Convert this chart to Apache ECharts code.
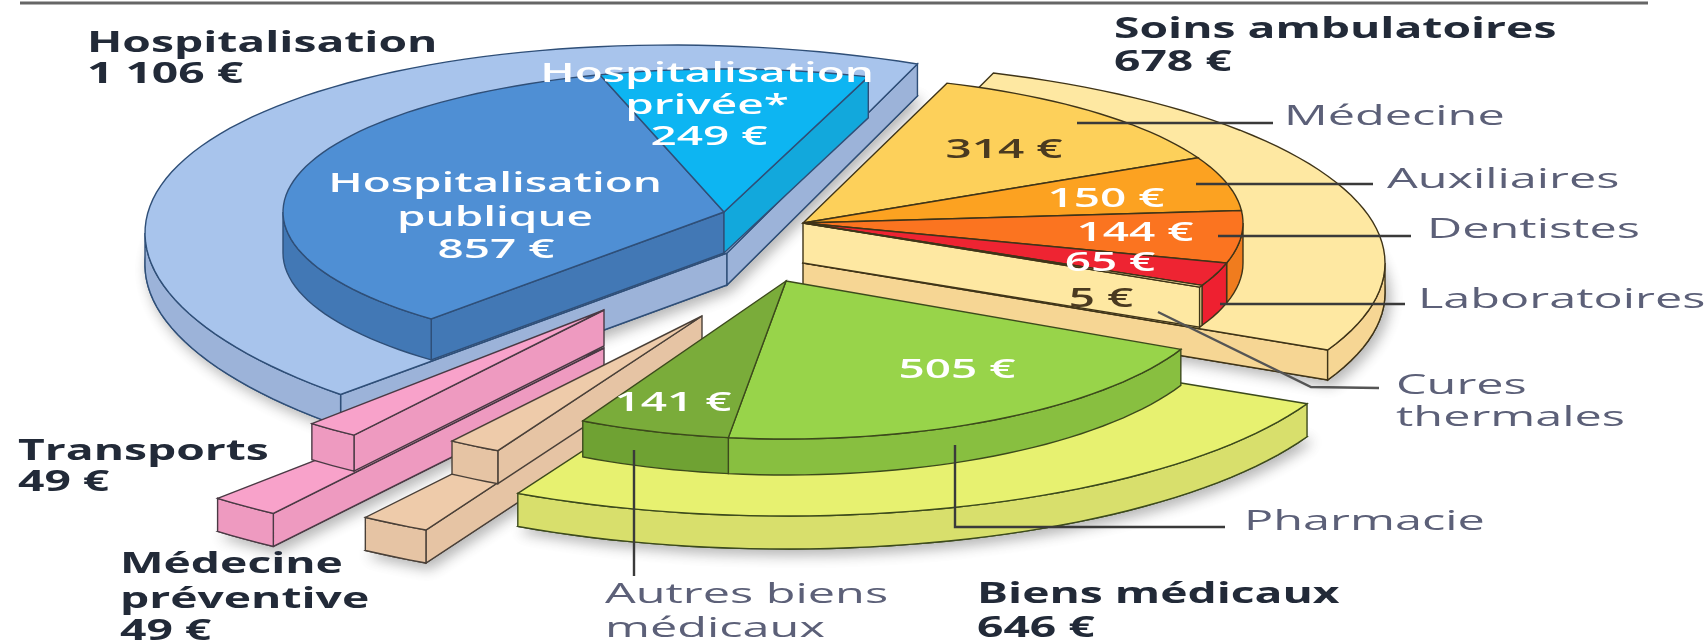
<!DOCTYPE html>
<html>
<head>
<meta charset="utf-8">
<style>
  html, body { margin: 0; background: #fff; }
  #chart { width: 1706px; height: 641px; filter: blur(0.6px); }
</style>
<script src="https://cdn.jsdelivr.net/npm/echarts@6/dist/echarts.min.js"></script>
</head>
<body>
<div id="chart"></div>
<script>
// montants en euros, dans l'ordre du tour de la tarte
var categories = ['Hospitalisation publique', 'Hospitalisation privée*', 'Médecine', 'Auxiliaires', 'Dentistes',
  'Laboratoires', 'Cures thermales', 'Pharmacie', 'Autres biens médicaux', 'Médecine préventive', 'Transports'];
var values = [857, 249, 314, 150, 144, 65, 5, 505, 141, 49, 49];
var sliceGroup = [0, 0, 1, 1, 1, 1, 1, 2, 2, 3, 4];
var groupNames = ['Hospitalisation', 'Soins ambulatoires', 'Biens médicaux', 'Médecine préventive', 'Transports'];

var total = values.reduce(function (a, b) { return a + b; }, 0);
var startAngle = 131.6;

// geometrie de chaque part eclatee (pixels de la page)
var groupLayout = [
  { x: 724, y: 212, a: 441, b: 143, depth: 41, px: 727, py: 253, pa: 582, pb: 207, shear: 20, pDepth: 32, line: '#2f4f78',
    plate: '#a8c4ec', plateWall: '#9cb3d9' },
  { x: 803, y: 223, a: 440, b: 148, depth: 40, px: 803, py: 263, pa: 582, pb: 201, shear: 0, pDepth: 30, line: '#3f3418',
    plate: '#fee8a2', plateWall: '#f6d694' },
  { x: 786, y: 281, a: 438, b: 158, depth: 36, px: 786, py: 318, pa: 578, pb: 198, shear: 0, pDepth: 33, line: '#3c4a1c',
    plate: '#e7f170', plateWall: '#d8df6c' },
  { x: 702, y: 316, a: 440, b: 152, depth: 33, px: 696, py: 352, pa: 582, pb: 201, shear: 0, pDepth: 33, line: '#4a4038',
    plate: '#eecbaa', plateWall: '#e6c4a4' },
  { x: 604, y: 310, a: 440, b: 152, depth: 36, px: 604, py: 348, pa: 582, pb: 201, shear: 0, pDepth: 33, line: '#4a3a44',
    plate: '#f8a2ca', plateWall: '#ee9ac0' }
];
var sliceTop = ['#4f8fd4', '#0db5f2', '#fdd05a', '#fca221', '#fb7420', '#ee2432', '#fee8a2', '#98d44a', '#7aac3a', '#eecbaa', '#f8a2ca'];
var sliceWall = ['#4278b5', '#12a8dc', '#f5b94f', '#f09a20', '#f07c1e', '#ee2030', '#fee8a2', '#88bf40', '#6fa233', '#e6c4a4', '#ee9ac0'];

// angles cumules a partir des valeurs
var sliceAngles = [];
(function () {
  var cur = startAngle;
  values.forEach(function (v) {
    var next = cur + v / total * 360;
    sliceAngles.push([cur, next]);
    cur = next;
  });
})();

function rad(d) { return d * Math.PI / 180; }

function arcPoints(cx, cy, a, b, shear, t1, t2, dy) {
  var pts = [], n = Math.max(2, Math.ceil((t2 - t1) / 2));
  for (var i = 0; i <= n; i++) {
    var t = rad(t1 + (t2 - t1) * i / n);
    pts.push([cx + a * Math.cos(t), cy + b * Math.sin(t) + shear * Math.cos(t) + dy]);
  }
  return pts;
}

function polygon(map, pts, fill, line, extra) {
  return {
    type: 'polygon',
    shape: { points: pts.map(map) },
    style: Object.assign({ fill: fill, stroke: line, lineWidth: 1.4 }, extra || {})
  };
}

// faces radiales tournees vers le lecteur
function radialWall(out, map, cx, cy, a, b, shear, t, depth, wall, line) {
  var p = arcPoints(cx, cy, a, b, shear, t, t + 1, 0)[0];
  out.push(polygon(map, [[cx, cy], p, [p[0], p[1] + depth], [cx, cy + depth]], wall, line));
}

function drawRim(out, map, cx, cy, a, b, shear, t1, t2, depth, wall, line) {
  for (var k = 0; k < 2; k++) {
    var lo = Math.max(t1, 360 * k), hi = Math.min(t2, 360 * k + 180);
    if (hi <= lo) continue;
    var up = arcPoints(cx, cy, a, b, shear, lo, hi, 0);
    var down = arcPoints(cx, cy, a, b, shear, lo, hi, depth).reverse();
    out.push(polygon(map, up.concat(down), wall, line));
  }
}

function drawTop(out, map, cx, cy, a, b, shear, t1, t2, top, line) {
  out.push(polygon(map, [[cx, cy]].concat(arcPoints(cx, cy, a, b, shear, t1, t2, 0)), top, line));
}

function renderGroup(params, api) {
  var g = api.value(0);
  var lay = groupLayout[g];
  var map = function (p) { return api.coord(p); };
  var idx = [];
  sliceGroup.forEach(function (sg, i) { if (sg === g) idx.push(i); });
  var first = idx[0], last = idx[idx.length - 1];
  var t1 = sliceAngles[first][0], t2 = sliceAngles[last][1];
  var startSeen = Math.cos(rad(t1)) < 0, endSeen = Math.cos(rad(t2)) > 0;
  var children = [];

  // ombre portee sous le plateau
  children.push(polygon(map, [[lay.px, lay.py + lay.pDepth]].concat(arcPoints(lay.px, lay.py, lay.pa, lay.pb, lay.shear, t1, t2, lay.pDepth)),
    lay.plateWall, lay.line, { shadowBlur: 14, shadowColor: 'rgba(0,0,0,0.3)', shadowOffsetX: 4, shadowOffsetY: 5 }));

  // plateau clair
  if (startSeen) radialWall(children, map, lay.px, lay.py, lay.pa, lay.pb, lay.shear, t1, lay.pDepth, lay.plateWall, lay.line);
  if (endSeen) radialWall(children, map, lay.px, lay.py, lay.pa, lay.pb, lay.shear, t2, lay.pDepth, lay.plateWall, lay.line);
  drawRim(children, map, lay.px, lay.py, lay.pa, lay.pb, lay.shear, t1, t2, lay.pDepth, lay.plateWall, lay.line);
  drawTop(children, map, lay.px, lay.py, lay.pa, lay.pb, lay.shear, t1, t2, lay.plate, lay.line);

  // parts du dessus
  if (startSeen) radialWall(children, map, lay.x, lay.y, lay.a, lay.b, 0, t1, lay.depth, sliceWall[first], lay.line);
  if (endSeen) radialWall(children, map, lay.x, lay.y, lay.a, lay.b, 0, t2, lay.depth, sliceWall[last], lay.line);
  idx.forEach(function (i) {
    drawRim(children, map, lay.x, lay.y, lay.a, lay.b, 0, sliceAngles[i][0], sliceAngles[i][1], lay.depth, sliceWall[i], lay.line);
  });
  idx.forEach(function (i) {
    drawTop(children, map, lay.x, lay.y, lay.a, lay.b, 0, sliceAngles[i][0], sliceAngles[i][1], sliceTop[i], lay.line);
  });
  return { type: 'group', children: children };
}

// textes et filets
var BOLD = 'bold 28px "Open Sans"', REG = '27px "Open Sans"', INNER = '600 27px "Open Sans"';
function txt(x, y, str, font, fill, align) {
  return {
    type: 'text', x: x, y: y + 3, scaleX: font === BOLD ? 1.65 : (font === REG ? 1.8 : 1.7), z: 20,
    style: { text: str, font: font, fill: fill, align: align || 'left', verticalAlign: 'middle' }
  };
}
function rule(points, color, width) {
  return {
    type: 'polyline', z: 19, shape: { points: points },
    style: { stroke: color || '#3a3a3a', lineWidth: width || 2.4, fill: null }
  };
}
var DARK = '#222a38', SOFT = '#5c6078', WHITE = '#ffffff';

var graphics = [
  rule([[20, 3], [1648, 3]], '#666', 3),
  rule([[1077, 123], [1273, 123]]),
  rule([[1196, 184], [1373, 184]]),
  rule([[1218, 236], [1411, 236]]),
  rule([[1220, 304], [1405, 304]]),
  rule([[1158, 312], [1311, 387], [1379, 388]], '#555'),
  rule([[955, 445], [955, 527], [1225, 527]]),
  rule([[634, 450], [634, 576]]),

  txt(87, 41, 'Hospitalisation', BOLD, DARK),
  txt(87, 72, '1 106 €', BOLD, DARK),
  txt(1114, 27, 'Soins ambulatoires', BOLD, DARK),
  txt(1114, 60, '678 €', BOLD, DARK),
  txt(977, 592, 'Biens médicaux', BOLD, DARK),
  txt(977, 626, '646 €', BOLD, DARK),
  txt(18, 449, 'Transports', BOLD, DARK),
  txt(18, 480, '49 €', BOLD, DARK),
  txt(120, 562, 'Médecine', BOLD, DARK),
  txt(120, 597, 'préventive', BOLD, DARK),
  txt(120, 629, '49 €', BOLD, DARK),

  txt(1284, 114, 'Médecine', REG, SOFT),
  txt(1387, 177, 'Auxiliaires', REG, SOFT),
  txt(1427, 227, 'Dentistes', REG, SOFT),
  txt(1418, 297, 'Laboratoires', REG, SOFT),
  txt(1396, 383, 'Cures', REG, SOFT),
  txt(1396, 415, 'thermales', REG, SOFT),
  txt(1244, 519, 'Pharmacie', REG, SOFT),
  txt(605, 592, 'Autres biens', REG, SOFT),
  txt(605, 626, 'médicaux', REG, SOFT),

  txt(707, 71, 'Hospitalisation', INNER, WHITE, 'center'),
  txt(707, 103, 'privée*', INNER, WHITE, 'center'),
  txt(709, 134, '249 €', INNER, WHITE, 'center'),
  txt(495, 181, 'Hospitalisation', INNER, WHITE, 'center'),
  txt(495, 215, 'publique', INNER, WHITE, 'center'),
  txt(496, 247, '857 €', INNER, WHITE, 'center'),
  txt(1004, 147, '314 €', INNER, '#4a3a20', 'center'),
  txt(1106, 196, '150 €', INNER, WHITE, 'center'),
  txt(1135, 230, '144 €', INNER, WHITE, 'center'),
  txt(1110, 260, '65 €', INNER, WHITE, 'center'),
  txt(1101, 296, '5 €', INNER, '#4a3a20', 'center'),
  txt(957, 367, '505 €', INNER, WHITE, 'center'),
  txt(673, 400, '141 €', INNER, WHITE, 'center')
];

var chart = echarts.init(document.getElementById('chart'));
chart.setOption({
  animation: false,
  backgroundColor: '#ffffff',
  grid: { left: 0, right: 0, top: 0, bottom: 0 },
  xAxis: { type: 'value', min: 0, max: 1706, show: false },
  yAxis: { type: 'value', min: 0, max: 641, inverse: true, show: false },
  graphic: { elements: graphics },
  series: [{
    type: 'custom',
    clip: false,
    silent: true,
    renderItem: renderGroup,
    data: [0, 1, 4, 3, 2].map(function (g) {
      var sum = 0;
      values.forEach(function (v, i) { if (sliceGroup[i] === g) sum += v; });
      return { name: groupNames[g], value: [g, sum] };
    }),
    encode: { x: 0, y: 1 }
  }]
});
</script>
</body>
</html>
